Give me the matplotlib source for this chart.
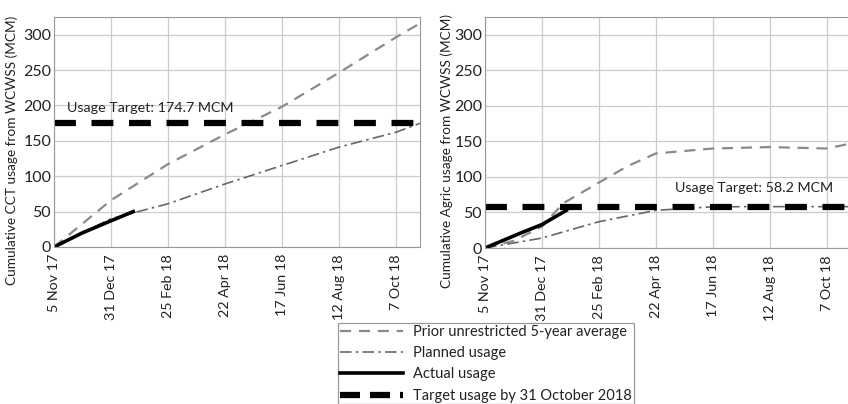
import datetime as dt
import matplotlib
matplotlib.use('Agg')
import matplotlib.pyplot as plt
import matplotlib.dates as mdates
from matplotlib.lines import Line2D

plt.rcParams['font.family'] = ['Lato', 'DejaVu Sans']


def d(s):
    return dt.datetime.strptime(s, '%d %b %y')


# x ticks (every 8 weeks) and axis range
tick_dates = ['5 Nov 17', '31 Dec 17', '25 Feb 18', '22 Apr 18', '17 Jun 18', '12 Aug 18', '7 Oct 18']
x_start, x_end = '5 Nov 17', '31 Oct 18'

# CCT (left panel)
cct_prior_dates = ['5 Nov 17', '31 Dec 17', '25 Feb 18', '22 Apr 18', '17 Jun 18', '12 Aug 18', '7 Oct 18', '31 Oct 18']
cct_prior = [0, 66, 117, 159, 198, 246, 296, 316]
cct_plan_dates = ['5 Nov 17', '31 Dec 17', '25 Feb 18', '22 Apr 18', '17 Jun 18', '12 Aug 18', '7 Oct 18', '31 Oct 18']
cct_plan = [0, 40, 61, 89, 115, 141, 162, 174.7]
cct_actual_dates = ['5 Nov 17', '3 Dec 17', '31 Dec 17', '22 Jan 18']
cct_actual = [0, 20, 37, 50]
cct_target = 174.7

# Agric (right panel)
agr_prior_dates = ['5 Nov 17', '3 Dec 17', '31 Dec 17', '21 Jan 18', '25 Feb 18', '25 Mar 18', '22 Apr 18',
                   '17 Jun 18', '12 Aug 18', '7 Oct 18', '31 Oct 18']
agr_prior = [0, 10, 30, 63, 92, 115, 133, 140, 142, 140, 147]
agr_plan_dates = ['5 Nov 17', '31 Dec 17', '25 Feb 18', '22 Apr 18', '17 Jun 18', '12 Aug 18', '7 Oct 18', '31 Oct 18']
agr_plan = [0, 14, 37, 53, 58, 58.2, 58.2, 58.2]
agr_actual_dates = ['5 Nov 17', '10 Dec 17', '31 Dec 17', '24 Jan 18']
agr_actual = [0, 21, 33, 53]
agr_target = 58.2

PRIOR = dict(color='#8a8a8a', lw=1.6, dashes=(5, 3.5))
PLAN = dict(color='#666666', lw=1.2, dashes=(7, 2.5, 1.5, 2.5))
ACTUAL = dict(color='black', lw=2.6)
TARGET = dict(color='black', lw=4.5, dashes=(3.5, 2.5))

fig = plt.figure(figsize=(8.48, 4.04), dpi=100)
ax1 = fig.add_axes([54 / 848, 1 - 247 / 404, 366 / 848, 230 / 404])
ax2 = fig.add_axes([485 / 848, 1 - 248 / 404, 366 / 848, 231 / 404])


def panel(ax, prior_d, prior, plan_d, plan, act_d, act, target, ylabel, label_pos, ylabel_x):
    ax.plot([d(s) for s in prior_d], prior, **PRIOR)
    ax.plot([d(s) for s in plan_d], plan, **PLAN)
    ax.plot([d(s) for s in act_d], act, **ACTUAL)
    ax.plot([d(x_start), d(x_end)], [target, target], **TARGET)
    ax.text(d(label_pos[0]), label_pos[1], 'Usage Target: %.1f MCM' % target, fontsize=10.3, va='center',
            color='#222222')
    ax.set_xlim(d(x_start), d(x_end))
    ax.set_ylim(0, 325)
    ax.set_yticks(range(0, 301, 50))
    ax.set_xticks([d(s) for s in tick_dates])
    ax.xaxis.set_major_formatter(plt.FuncFormatter(
        lambda v, p: '%d %s' % (mdates.num2date(v).day, mdates.num2date(v).strftime('%b %y'))))
    ax.tick_params(axis='x', rotation=90, length=0, labelsize=10.3, pad=5, labelcolor='#222222')
    ax.tick_params(axis='y', length=0, labelsize=11.5, pad=2, labelcolor='#222222')
    ax.grid(True, color='#cccccc', lw=0.9)
    ax.set_axisbelow(True)
    for sp in ax.spines.values():
        sp.set_color('#999999')
    ax.set_ylabel(ylabel, fontsize=9.8, color='#222222')
    ax.yaxis.set_label_coords(ylabel_x, 0.42)


panel(ax1, cct_prior_dates, cct_prior, cct_plan_dates, cct_plan, cct_actual_dates, cct_actual,
      cct_target, 'Cumulative CCT usage from WCWSS (MCM)', ('18 Nov 17', 197), -0.098)
panel(ax2, agr_prior_dates, agr_prior, agr_plan_dates, agr_plan, agr_actual_dates, agr_actual,
      agr_target, 'Cumulative Agric usage from WCWSS (MCM)', ('11 May 18', 85), -0.087)

handles = [
    Line2D([], [], **PRIOR),
    Line2D([], [], **PLAN),
    Line2D([], [], **ACTUAL),
    Line2D([], [], color='black', lw=4.5, dashes=(3.2, 1.6)),
]
labels = ['Prior unrestricted 5-year average', 'Planned usage', 'Actual usage', 'Target usage by 31 October 2018']
leg = fig.legend(handles, labels, loc='upper center', bbox_to_anchor=(486 / 848, 1 - 316 / 404),
                 fontsize=10.5, handlelength=4.3, fancybox=False, framealpha=1, borderpad=0.1,
                 labelspacing=0.5, handletextpad=0.75)
for t in leg.get_texts():
    t.set_color('#222222')
leg.get_frame().set_edgecolor('#999999')
leg.get_frame().set_linewidth(0.9)

fig.savefig('out.png', dpi=100)
